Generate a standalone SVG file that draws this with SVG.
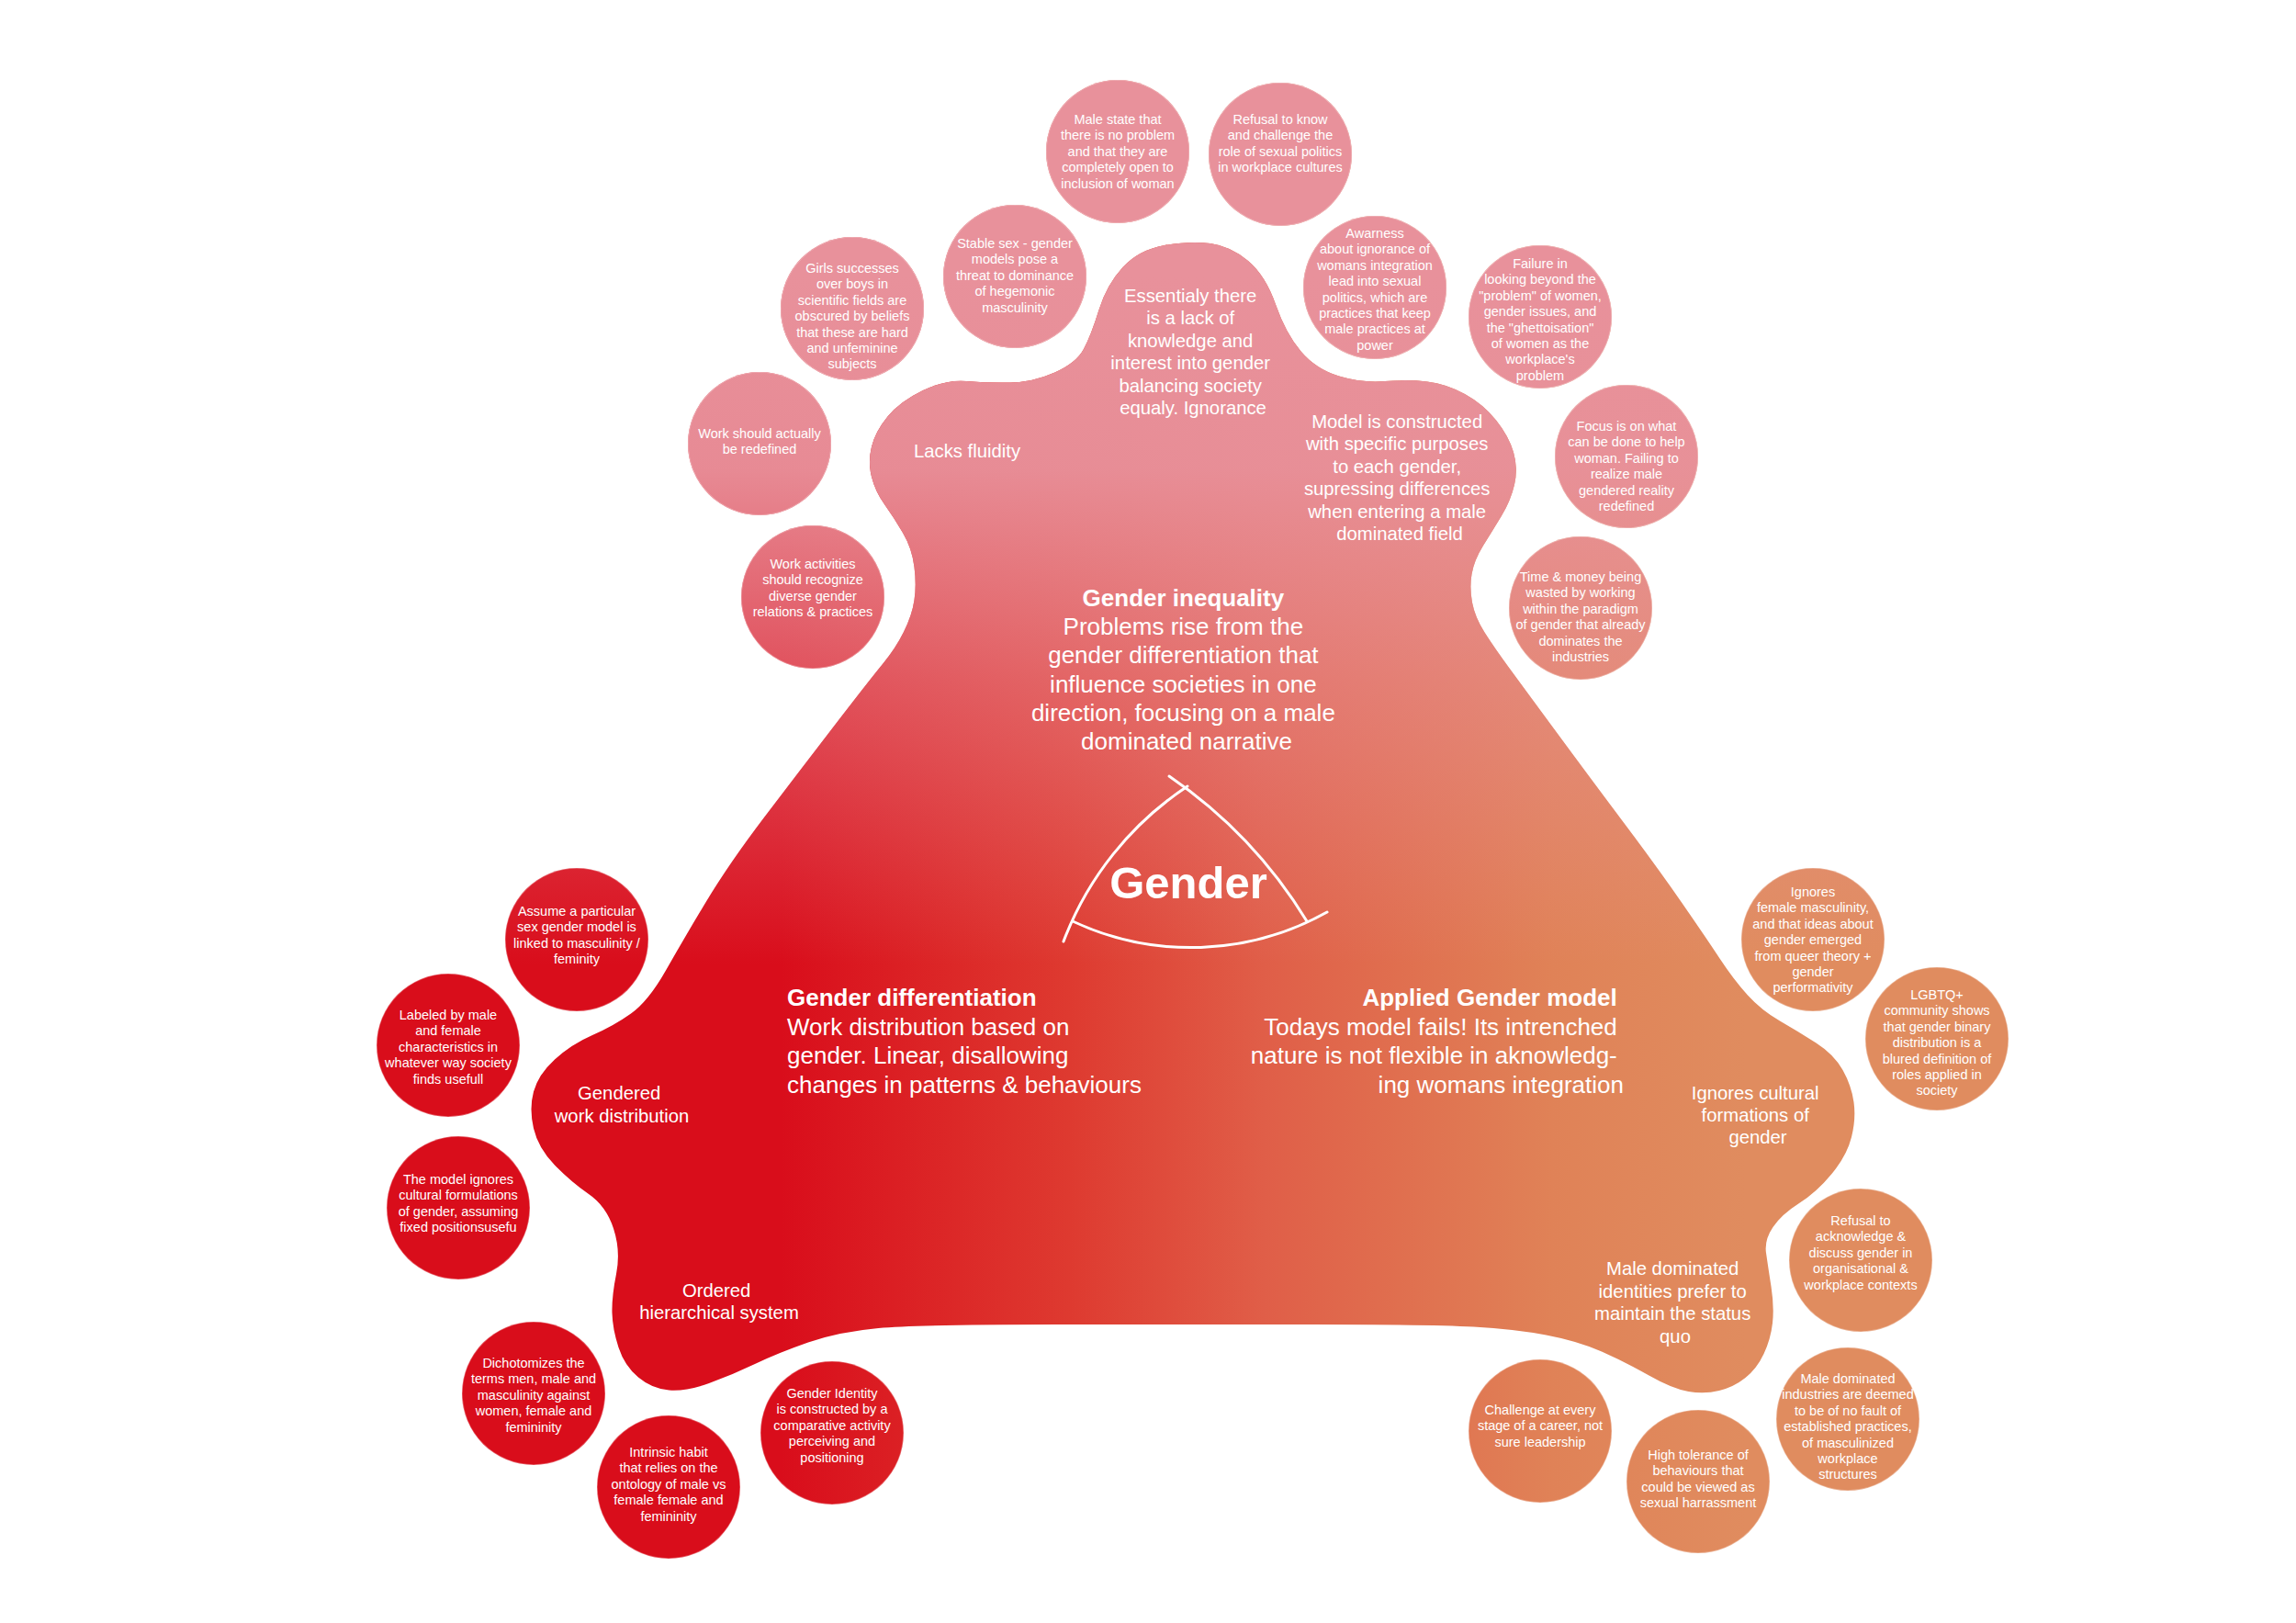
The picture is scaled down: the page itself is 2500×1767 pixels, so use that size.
<svg xmlns="http://www.w3.org/2000/svg" xmlns:xlink="http://www.w3.org/1999/xlink" width="2500" height="1767" viewBox="0 0 2500 1767">
  <defs>
    <!-- horizontal base colour: red on the left, orange on the right -->
    <linearGradient id="base" gradientUnits="userSpaceOnUse" x1="850" y1="0" x2="1900" y2="0">
      <stop offset="0" stop-color="#D90D1B"/>
      <stop offset="0.3" stop-color="#DE3A30"/>
      <stop offset="0.5" stop-color="#E05E48"/>
      <stop offset="0.8" stop-color="#E08257"/>
      <stop offset="1" stop-color="#E08C5F"/>
    </linearGradient>
    <!-- pink wash fading out from the top -->
    <linearGradient id="tint" gradientUnits="userSpaceOnUse" x1="0" y1="300" x2="0" y2="1050">
      <stop offset="0" stop-color="#E8919B" stop-opacity="1"/>
      <stop offset="0.28" stop-color="#E8919B" stop-opacity="0.95"/>
      <stop offset="0.587" stop-color="#E8919B" stop-opacity="0.5"/>
      <stop offset="1" stop-color="#E8919B" stop-opacity="0"/>
    </linearGradient>
    <path id="blob-shape" d="M 1268 267 Q 1296 262 1318 265 Q 1340 268 1359 284 Q 1378 300 1389 331.5 Q 1400 363 1416.5 382.5 Q 1433 402 1458 409.5 Q 1483 417 1508 415 Q 1533 413 1554 415.5 Q 1575 418 1595 429 Q 1615 440 1629 457.5 Q 1643 475 1648 492.5 Q 1653 510 1649 527.5 Q 1645 545 1635 561.5 Q 1625 578 1615 594 Q 1605 610 1602.5 625 Q 1600 640 1603 656 Q 1606 672 1616.5 688.5 Q 1627 705 1643.5 727.5 Q 1660 750 1695 797.5 Q 1730 845 1767.5 895 Q 1805 945 1831 982.5 Q 1857 1020 1872.5 1043.5 Q 1888 1067 1903 1083.5 Q 1918 1100 1938 1111.5 Q 1958 1123 1977.5 1135.5 Q 1997 1148 2006.5 1165 Q 2016 1182 2018.5 1200 Q 2021 1218 2016 1238 Q 2011 1258 1994.5 1278 Q 1978 1298 1959 1310 Q 1940 1322 1930.5 1336 Q 1921 1350 1923 1364 Q 1925 1378 1928.5 1400.5 Q 1932 1423 1930 1440.5 Q 1928 1458 1920.5 1474 Q 1913 1490 1900.5 1500 Q 1888 1510 1872 1514 Q 1856 1518 1838.5 1515 Q 1821 1512 1795.5 1497.5 Q 1770 1483 1744 1471.5 Q 1718 1460 1683.5 1453.5 Q 1649 1447 1604.5 1444.5 Q 1560 1442 1430 1442 Q 1300 1442 1150 1442 Q 1000 1442 956.5 1446 Q 913 1450 880 1461.5 Q 847 1473 822 1485 Q 797 1497 772 1506 Q 747 1515 728.5 1513.5 Q 710 1512 695 1499.5 Q 680 1487 673.5 1467 Q 667 1447 666.5 1429.5 Q 666 1412 671 1387 Q 676 1362 668 1337.5 Q 660 1313 641 1300 Q 622 1287 604 1268.5 Q 586 1250 581 1228.5 Q 576 1207 581 1188.5 Q 586 1170 604 1153.5 Q 622 1137 645 1127 Q 668 1117 687 1103.5 Q 706 1090 725 1056.5 Q 744 1023 769 981.5 Q 794 940 832 890 Q 870 840 908.5 790 Q 947 740 961 723 Q 975 706 984 688 Q 993 670 995.5 653.5 Q 998 637 995.5 617 Q 993 597 983 580 Q 973 563 963 549 Q 953 535 949 519 Q 945 503 949 486.5 Q 953 470 966.5 453.5 Q 980 437 1005 425 Q 1030 413 1052.5 415 Q 1075 417 1100 416.5 Q 1125 416 1148.5 405.5 Q 1172 395 1180 380 Q 1188 365 1196.5 337.5 Q 1205 310 1222.5 291 Q 1240 272 1268 267 Z"/>
  </defs>
  <style>
    .shape-base{fill:url(#base)}
    .shape-tint{fill:url(#tint)}
    .edge{fill:none;stroke:#fff;stroke-opacity:.3;stroke-width:1.5}
    text{font-family:"Liberation Sans",Arial,Helvetica,sans-serif;fill:#fff}
    .sm{font-size:14.5px;text-anchor:middle}
    .md{font-size:20.3px;text-anchor:middle}
    .lg{font-size:26px}
    .b{font-weight:bold}
    .mid{text-anchor:middle}
    .end{text-anchor:end}
    .title{font-size:49px;font-weight:bold;text-anchor:middle}
    .emblem{fill:none;stroke:#fff;stroke-width:3;stroke-linecap:round}
  </style>

  <rect width="2500" height="1767" fill="#fff"/>

  <!-- central three-lobed body -->
  <g id="core">
    <use xlink:href="#blob-shape" class="shape-base"/>
    <use xlink:href="#blob-shape" class="shape-tint"/>
  </g>

  <!-- labels inside the body -->
  <g id="lobe-ignorance">
    <text class="md" y="329">
      <tspan x="1299">Essentialy there</tspan>
      <tspan x="1299" dy="24.4">is a lack of</tspan>
      <tspan x="1299" dy="24.4">knowledge and</tspan>
      <tspan x="1299" dy="24.4">interest into gender</tspan>
      <tspan x="1299" dy="24.4">balancing society</tspan>
      <tspan x="1299" dy="24.4">equaly. Ignorance</tspan>
    </text>
  </g>
  <g id="lobe-fluidity">
    <text class="md" x="1053" y="498">Lacks fluidity</text>
  </g>
  <g id="lobe-purposes">
    <text class="md" y="466">
      <tspan x="1524">Model is constructed</tspan>
      <tspan x="1524" dy="24.4">with specific purposes</tspan>
      <tspan x="1524" dy="24.4">to each gender,</tspan>
      <tspan x="1524" dy="24.4">supressing differences</tspan>
      <tspan x="1524" dy="24.4">when entering a male</tspan>
      <tspan x="1524" dy="24.4">dominated field</tspan>
    </text>
  </g>
  <g id="gender-inequality">
    <text class="lg mid" y="660">
      <tspan x="1292" class="b">Gender inequality</tspan>
      <tspan x="1292" dy="31.2">Problems rise from the</tspan>
      <tspan x="1292" dy="31.2">gender differentiation that</tspan>
      <tspan x="1292" dy="31.2">influence societies in one</tspan>
      <tspan x="1292" dy="31.2">direction, focusing on a male</tspan>
      <tspan x="1292" dy="31.2">dominated narrative</tspan>
    </text>
  </g>
  <g id="gender-differentiation">
    <text class="lg" y="1095">
      <tspan x="857" class="b">Gender differentiation</tspan>
      <tspan x="857" dy="31.5">Work distribution based on</tspan>
      <tspan x="857" dy="31.5">gender. Linear, disallowing</tspan>
      <tspan x="857" dy="31.5">changes in patterns &amp; behaviours</tspan>
    </text>
  </g>
  <g id="applied-gender-model">
    <text class="lg end" y="1095">
      <tspan x="1768" class="b">Applied Gender model</tspan>
      <tspan x="1768" dy="31.5">Todays model fails! Its intrenched</tspan>
      <tspan x="1768" dy="31.5">nature is not flexible in aknowledg-</tspan>
      <tspan x="1768" dy="31.5">ing womans integration</tspan>
    </text>
  </g>
  <g id="lobe-work-distribution">
    <text class="md" y="1197">
      <tspan x="677">Gendered</tspan>
      <tspan x="677" dy="25">work distribution</tspan>
    </text>
  </g>
  <g id="lobe-hierarchy">
    <text class="md" y="1412">
      <tspan x="783">Ordered</tspan>
      <tspan x="783" dy="24">hierarchical system</tspan>
    </text>
  </g>
  <g id="lobe-cultural">
    <text class="md" y="1197">
      <tspan x="1914">Ignores cultural</tspan>
      <tspan x="1914" dy="24.2">formations of</tspan>
      <tspan x="1914" dy="24.2">gender</tspan>
    </text>
  </g>
  <g id="lobe-status-quo">
    <text class="md" y="1388">
      <tspan x="1824">Male dominated</tspan>
      <tspan x="1824" dy="24.5">identities prefer to</tspan>
      <tspan x="1824" dy="24.5">maintain the status</tspan>
      <tspan x="1824" dy="24.5">quo</tspan>
    </text>
  </g>

  <!-- curved triangle around the central word -->
  <g id="gender-emblem">
    <path class="emblem" d="M 1293 856 A 351 351 0 0 0 1158 1025"/>
    <path class="emblem" d="M 1273 845 A 518 518 0 0 1 1423 1003"/>
    <path class="emblem" d="M 1168 1003 A 304 304 0 0 0 1445 993"/>
    <text class="title" x="1294" y="978">Gender</text>
  </g>

  <!-- satellite bubbles: inequality -->
  <g id="b-male-state">
    <circle class="shape-base" cx="1217" cy="165" r="78"/><circle class="shape-tint" cx="1217" cy="165" r="78"/><circle class="edge" cx="1217" cy="165" r="78"/>
    <text class="sm" y="135"><tspan x="1217">Male state that</tspan><tspan x="1217" dy="17.4">there is no problem</tspan><tspan x="1217" dy="17.4">and that they are</tspan><tspan x="1217" dy="17.4">completely open to</tspan><tspan x="1217" dy="17.4">inclusion of woman</tspan></text>
  </g>
  <g id="b-refusal-know">
    <circle class="shape-base" cx="1394" cy="168" r="78"/><circle class="shape-tint" cx="1394" cy="168" r="78"/><circle class="edge" cx="1394" cy="168" r="78"/>
    <text class="sm" y="135"><tspan x="1394">Refusal to know</tspan><tspan x="1394" dy="17.4">and challenge the</tspan><tspan x="1394" dy="17.4">role of sexual politics</tspan><tspan x="1394" dy="17.4">in workplace cultures</tspan></text>
  </g>
  <g id="b-stable-sex">
    <circle class="shape-base" cx="1105" cy="301" r="78"/><circle class="shape-tint" cx="1105" cy="301" r="78"/><circle class="edge" cx="1105" cy="301" r="78"/>
    <text class="sm" y="270"><tspan x="1105">Stable sex - gender</tspan><tspan x="1105" dy="17.4">models pose a</tspan><tspan x="1105" dy="17.4">threat to dominance</tspan><tspan x="1105" dy="17.4">of hegemonic</tspan><tspan x="1105" dy="17.4">masculinity</tspan></text>
  </g>
  <g id="b-girls-successes">
    <circle class="shape-base" cx="928" cy="336" r="78"/><circle class="shape-tint" cx="928" cy="336" r="78"/><circle class="edge" cx="928" cy="336" r="78"/>
    <text class="sm" y="297"><tspan x="928">Girls successes</tspan><tspan x="928" dy="17.4">over boys in</tspan><tspan x="928" dy="17.4">scientific fields are</tspan><tspan x="928" dy="17.4">obscured by beliefs</tspan><tspan x="928" dy="17.4">that these are hard</tspan><tspan x="928" dy="17.4">and unfeminine</tspan><tspan x="928" dy="17.4">subjects</tspan></text>
  </g>
  <g id="b-work-redefined">
    <circle class="shape-base" cx="827" cy="483" r="78"/><circle class="shape-tint" cx="827" cy="483" r="78"/><circle class="edge" cx="827" cy="483" r="78"/>
    <text class="sm" y="477"><tspan x="827">Work should actually</tspan><tspan x="827" dy="17.4">be redefined</tspan></text>
  </g>
  <g id="b-work-activities">
    <circle class="shape-base" cx="885" cy="650" r="78"/><circle class="shape-tint" cx="885" cy="650" r="78"/><circle class="edge" cx="885" cy="650" r="78"/>
    <text class="sm" y="619"><tspan x="885">Work activities</tspan><tspan x="885" dy="17.4">should recognize</tspan><tspan x="885" dy="17.4">diverse gender</tspan><tspan x="885" dy="17.4">relations &amp; practices</tspan></text>
  </g>
  <g id="b-awareness">
    <circle class="shape-base" cx="1497" cy="313" r="78"/><circle class="shape-tint" cx="1497" cy="313" r="78"/><circle class="edge" cx="1497" cy="313" r="78"/>
    <text class="sm" y="259"><tspan x="1497">Awarness</tspan><tspan x="1497" dy="17.4">about ignorance of</tspan><tspan x="1497" dy="17.4">womans integration</tspan><tspan x="1497" dy="17.4">lead into sexual</tspan><tspan x="1497" dy="17.4">politics, which are</tspan><tspan x="1497" dy="17.4">practices that keep</tspan><tspan x="1497" dy="17.4">male practices at</tspan><tspan x="1497" dy="17.4">power</tspan></text>
  </g>
  <g id="b-failure">
    <circle class="shape-base" cx="1677" cy="345" r="78"/><circle class="shape-tint" cx="1677" cy="345" r="78"/><circle class="edge" cx="1677" cy="345" r="78"/>
    <text class="sm" y="292"><tspan x="1677">Failure in</tspan><tspan x="1677" dy="17.4">looking beyond the</tspan><tspan x="1677" dy="17.4">"problem" of women,</tspan><tspan x="1677" dy="17.4">gender issues, and</tspan><tspan x="1677" dy="17.4">the "ghettoisation"</tspan><tspan x="1677" dy="17.4">of women as the</tspan><tspan x="1677" dy="17.4">workplace's</tspan><tspan x="1677" dy="17.4">problem</tspan></text>
  </g>
  <g id="b-focus">
    <circle class="shape-base" cx="1771" cy="497" r="78"/><circle class="shape-tint" cx="1771" cy="497" r="78"/><circle class="edge" cx="1771" cy="497" r="78"/>
    <text class="sm" y="469"><tspan x="1771">Focus is on what</tspan><tspan x="1771" dy="17.4">can be done to help</tspan><tspan x="1771" dy="17.4">woman. Failing to</tspan><tspan x="1771" dy="17.4">realize male</tspan><tspan x="1771" dy="17.4">gendered reality</tspan><tspan x="1771" dy="17.4">redefined</tspan></text>
  </g>
  <g id="b-time-money">
    <circle class="shape-base" cx="1721" cy="662" r="78"/><circle class="shape-tint" cx="1721" cy="662" r="78"/><circle class="edge" cx="1721" cy="662" r="78"/>
    <text class="sm" y="633"><tspan x="1721">Time &amp; money being</tspan><tspan x="1721" dy="17.4">wasted by working</tspan><tspan x="1721" dy="17.4">within the paradigm</tspan><tspan x="1721" dy="17.4">of gender that already</tspan><tspan x="1721" dy="17.4">dominates the</tspan><tspan x="1721" dy="17.4">industries</tspan></text>
  </g>

  <!-- satellite bubbles: differentiation -->
  <g id="b-assume-model">
    <circle class="shape-base" cx="628" cy="1023" r="78"/><circle class="shape-tint" cx="628" cy="1023" r="78"/><circle class="edge" cx="628" cy="1023" r="78"/>
    <text class="sm" y="997"><tspan x="628">Assume a particular</tspan><tspan x="628" dy="17.4">sex gender model is</tspan><tspan x="628" dy="17.4">linked to masculinity /</tspan><tspan x="628" dy="17.4">feminity</tspan></text>
  </g>
  <g id="b-labeled">
    <circle class="shape-base" cx="488" cy="1138" r="78"/><circle class="shape-tint" cx="488" cy="1138" r="78"/><circle class="edge" cx="488" cy="1138" r="78"/>
    <text class="sm" y="1110"><tspan x="488">Labeled by male</tspan><tspan x="488" dy="17.4">and female</tspan><tspan x="488" dy="17.4">characteristics in</tspan><tspan x="488" dy="17.4">whatever way society</tspan><tspan x="488" dy="17.4">finds usefull</tspan></text>
  </g>
  <g id="b-ignores-cultural">
    <circle class="shape-base" cx="499" cy="1315" r="78"/><circle class="shape-tint" cx="499" cy="1315" r="78"/><circle class="edge" cx="499" cy="1315" r="78"/>
    <text class="sm" y="1289"><tspan x="499">The model ignores</tspan><tspan x="499" dy="17.4">cultural formulations</tspan><tspan x="499" dy="17.4">of gender, assuming</tspan><tspan x="499" dy="17.4">fixed positionsusefu</tspan></text>
  </g>
  <g id="b-dichotomizes">
    <circle class="shape-base" cx="581" cy="1517" r="78"/><circle class="shape-tint" cx="581" cy="1517" r="78"/><circle class="edge" cx="581" cy="1517" r="78"/>
    <text class="sm" y="1489"><tspan x="581">Dichotomizes the</tspan><tspan x="581" dy="17.4">terms men, male and</tspan><tspan x="581" dy="17.4">masculinity against</tspan><tspan x="581" dy="17.4">women, female and</tspan><tspan x="581" dy="17.4">femininity</tspan></text>
  </g>
  <g id="b-intrinsic-habit">
    <circle class="shape-base" cx="728" cy="1619" r="78"/><circle class="shape-tint" cx="728" cy="1619" r="78"/><circle class="edge" cx="728" cy="1619" r="78"/>
    <text class="sm" y="1586"><tspan x="728">Intrinsic habit</tspan><tspan x="728" dy="17.4">that relies on the</tspan><tspan x="728" dy="17.4">ontology of male vs</tspan><tspan x="728" dy="17.4">female female and</tspan><tspan x="728" dy="17.4">femininity</tspan></text>
  </g>
  <g id="b-gender-identity">
    <circle class="shape-base" cx="906" cy="1560" r="78"/><circle class="shape-tint" cx="906" cy="1560" r="78"/><circle class="edge" cx="906" cy="1560" r="78"/>
    <text class="sm" y="1522"><tspan x="906">Gender Identity</tspan><tspan x="906" dy="17.4">is constructed by a</tspan><tspan x="906" dy="17.4">comparative activity</tspan><tspan x="906" dy="17.4">perceiving and</tspan><tspan x="906" dy="17.4">positioning</tspan></text>
  </g>

  <!-- satellite bubbles: applied model -->
  <g id="b-female-masculinity">
    <circle class="shape-base" cx="1974" cy="1023" r="78"/><circle class="shape-tint" cx="1974" cy="1023" r="78"/><circle class="edge" cx="1974" cy="1023" r="78"/>
    <text class="sm" y="976"><tspan x="1974">Ignores</tspan><tspan x="1974" dy="17.4">female masculinity,</tspan><tspan x="1974" dy="17.4">and that ideas about</tspan><tspan x="1974" dy="17.4">gender emerged</tspan><tspan x="1974" dy="17.4">from queer theory +</tspan><tspan x="1974" dy="17.4">gender</tspan><tspan x="1974" dy="17.4">performativity</tspan></text>
  </g>
  <g id="b-lgbtq">
    <circle class="shape-base" cx="2109" cy="1131" r="78"/><circle class="shape-tint" cx="2109" cy="1131" r="78"/><circle class="edge" cx="2109" cy="1131" r="78"/>
    <text class="sm" y="1088"><tspan x="2109">LGBTQ+</tspan><tspan x="2109" dy="17.4">community shows</tspan><tspan x="2109" dy="17.4">that gender binary</tspan><tspan x="2109" dy="17.4">distribution is a</tspan><tspan x="2109" dy="17.4">blured definition of</tspan><tspan x="2109" dy="17.4">roles applied in</tspan><tspan x="2109" dy="17.4">society</tspan></text>
  </g>
  <g id="b-refusal-acknowledge">
    <circle class="shape-base" cx="2026" cy="1372" r="78"/><circle class="shape-tint" cx="2026" cy="1372" r="78"/><circle class="edge" cx="2026" cy="1372" r="78"/>
    <text class="sm" y="1334"><tspan x="2026">Refusal to</tspan><tspan x="2026" dy="17.4">acknowledge &amp;</tspan><tspan x="2026" dy="17.4">discuss gender in</tspan><tspan x="2026" dy="17.4">organisational &amp;</tspan><tspan x="2026" dy="17.4">workplace contexts</tspan></text>
  </g>
  <g id="b-male-industries">
    <circle class="shape-base" cx="2012" cy="1545" r="78"/><circle class="shape-tint" cx="2012" cy="1545" r="78"/><circle class="edge" cx="2012" cy="1545" r="78"/>
    <text class="sm" y="1506"><tspan x="2012">Male dominated</tspan><tspan x="2012" dy="17.4">industries are deemed</tspan><tspan x="2012" dy="17.4">to be of no fault of</tspan><tspan x="2012" dy="17.4">established practices,</tspan><tspan x="2012" dy="17.4">of masculinized</tspan><tspan x="2012" dy="17.4">workplace</tspan><tspan x="2012" dy="17.4">structures</tspan></text>
  </g>
  <g id="b-challenge">
    <circle class="shape-base" cx="1677" cy="1558" r="78"/><circle class="shape-tint" cx="1677" cy="1558" r="78"/><circle class="edge" cx="1677" cy="1558" r="78"/>
    <text class="sm" y="1540"><tspan x="1677">Challenge at every</tspan><tspan x="1677" dy="17.4">stage of a career, not</tspan><tspan x="1677" dy="17.4">sure leadership</tspan></text>
  </g>
  <g id="b-high-tolerance">
    <circle class="shape-base" cx="1849" cy="1613" r="78"/><circle class="shape-tint" cx="1849" cy="1613" r="78"/><circle class="edge" cx="1849" cy="1613" r="78"/>
    <text class="sm" y="1589"><tspan x="1849">High tolerance of</tspan><tspan x="1849" dy="17.4">behaviours that</tspan><tspan x="1849" dy="17.4">could be viewed as</tspan><tspan x="1849" dy="17.4">sexual harrassment</tspan></text>
  </g>
</svg>
